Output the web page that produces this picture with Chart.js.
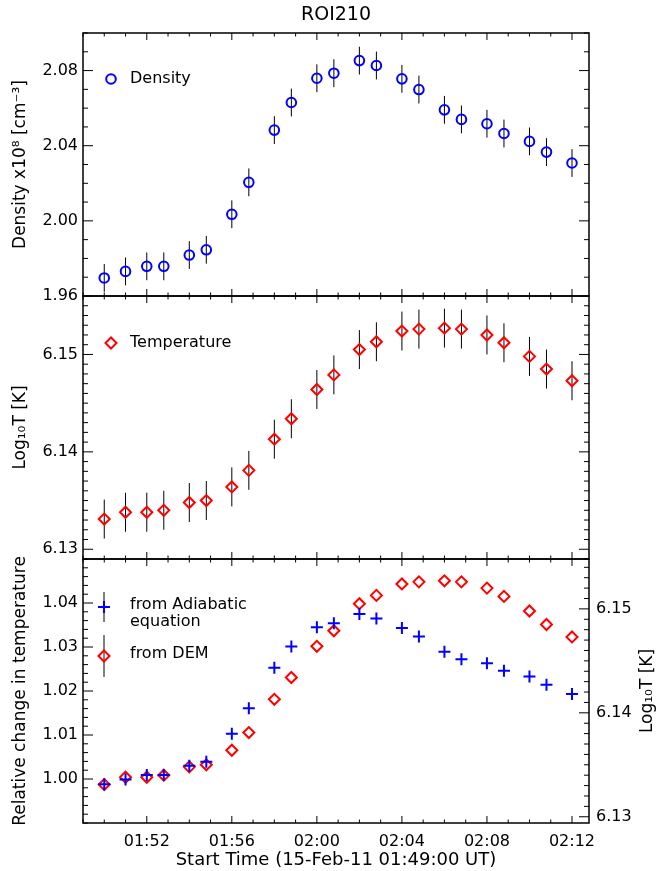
<!DOCTYPE html>
<html>
<head>
<meta charset="utf-8">
<title>ROI210</title>
<script src="https://cdn.jsdelivr.net/npm/chart.js@4.4.1/dist/chart.umd.min.js"></script>
<style>
  html, body { margin: 0; padding: 0; background: #fff; }
  #wrap { position: relative; width: 662px; height: 871px; }
  #wrap canvas { position: absolute; left: 0; top: 0; }
</style>
</head>
<body>
<div id="wrap">
  <canvas id="densityChart" width="662" height="871"></canvas>
  <canvas id="tempChart" width="662" height="871"></canvas>
  <canvas id="relChart" width="662" height="871"></canvas>
</div>
<script>
// Time of each frame, minutes after 01:49:00 UT
const times = [1, 2, 3, 3.8, 5, 5.8, 7, 7.8, 9, 9.8, 11, 11.8, 13, 13.8, 15, 15.8, 17, 17.8, 19, 19.8, 21, 21.8, 23];

// Density x10^8 cm^-3 and its error
const density = [1.9696, 1.9731, 1.9758, 1.9758, 1.9818, 1.9846, 2.0035, 2.0205, 2.0483, 2.0630, 2.0759, 2.0786,
                 2.0853, 2.0827, 2.0756, 2.0699, 2.0591, 2.0540, 2.0517, 2.0465, 2.0423, 2.0366, 2.0308];
const densityErr = [0.0074, 0.0074, 0.0074, 0.0074, 0.0074, 0.0074, 0.0074, 0.0074, 0.0074, 0.0074, 0.0074, 0.0074,
                    0.0074, 0.0074, 0.0074, 0.0074, 0.0074, 0.0074, 0.0074, 0.0074, 0.0074, 0.0074, 0.0074];

// Log10 T from DEM and its error
const logT = [6.1331, 6.1338, 6.1338, 6.1340, 6.1348, 6.1350, 6.1364, 6.1381, 6.1413, 6.1434, 6.1464, 6.1479,
              6.1505, 6.1513, 6.1524, 6.1526, 6.1527, 6.1526, 6.1520, 6.1512, 6.1498, 6.1485, 6.1473];
const logTErr = [0.0020, 0.0020, 0.0020, 0.0020, 0.0020, 0.0020, 0.0020, 0.0020, 0.0020, 0.0020, 0.0020, 0.0020,
                 0.0020, 0.0020, 0.0020, 0.0020, 0.0020, 0.0020, 0.0020, 0.0020, 0.0020, 0.0020, 0.0020];

// Relative change in temperature from the adiabatic equation
const adiabatic = [0.9988, 0.9999, 1.0009, 1.0009, 1.0030, 1.0039, 1.0103, 1.0161, 1.0253, 1.0301, 1.0345, 1.0354,
                   1.0375, 1.0365, 1.0343, 1.0324, 1.0289, 1.0272, 1.0263, 1.0246, 1.0233, 1.0214, 1.0193];

// Axis ticks
const timeTicks = [3, 7, 11, 15, 19, 23];
const timeLabels = ["01:52", "01:56", "02:00", "02:04", "02:08", "02:12"];
const densityTicks = [1.96, 2.00, 2.04, 2.08];
const logTTicks = [6.13, 6.14, 6.15];
const relTicks = [1.00, 1.01, 1.02, 1.03, 1.04];

// Layout (pixels)
const W = 662, H = 871;
const LEFT = 83, RIGHT = 589;
const P1_TOP = 33, P1_BOT = 296, P2_BOT = 559, P3_BOT = 823;

const BLUE = "#0000ff";
const RED = "#ff0000";
const FONT = "'DejaVu Sans', sans-serif";

Chart.defaults.font.family = FONT;
Chart.defaults.font.size = 16;
Chart.defaults.color = "#000";

const pts = ys => times.map((t, i) => ({ x: t, y: ys[i] }));

// inside ticks + box, IDL style
const idlFrame = {
  id: "idlFrame",
  afterDatasetsDraw(chart, args, opts) {
    const { ctx, chartArea: a, scales } = chart;
    ctx.save();
    ctx.strokeStyle = "#000";
    ctx.lineWidth = 1;
    const line = (x0, y0, x1, y1) => { ctx.beginPath(); ctx.moveTo(x0, y0); ctx.lineTo(x1, y1); ctx.stroke(); };

    const xs = scales.x;
    for (let m = Math.ceil(xs.min); m <= xs.max; m++) {
      const px = xs.getPixelForValue(m);
      const len = timeTicks.includes(m) ? 7 : 3.5;
      line(px, a.bottom, px, a.bottom - len);
      line(px, a.top, px, a.top + len);
    }

    const yTicks = (scale, majors, minor, x0, dir) => {
      const k0 = Math.ceil(scale.min / minor - 1e-6), k1 = Math.floor(scale.max / minor + 1e-6);
      for (let k = k0; k <= k1; k++) {
        const v = k * minor;
        const py = scale.getPixelForValue(v);
        const major = majors.some(m => Math.abs(m - v) < minor / 10);
        line(x0, py, x0 + dir * (major ? 10 : 5), py);
      }
    };
    const left = scales.y;
    const right = scales.y2 || scales.y;
    yTicks(left, opts.leftMajor, opts.leftMinor, a.left, 1);
    yTicks(right, opts.rightMajor || opts.leftMajor, opts.rightMinor || opts.leftMinor, a.right, -1);

    ctx.lineWidth = 1.5;
    ctx.strokeRect(a.left, a.top, a.right - a.left, a.bottom - a.top);
    ctx.restore();
  }
};

// vertical error bars drawn from the error arrays
const errorBars = {
  id: "errorBars",
  beforeDatasetsDraw(chart, args, opts) {
    if (!opts.errors) return;
    const { ctx, scales } = chart;
    const ds = chart.data.datasets[0];
    ctx.save();
    ctx.strokeStyle = "#000";
    ctx.lineWidth = 1;
    ds.data.forEach((p, i) => {
      const px = scales.x.getPixelForValue(p.x);
      ctx.beginPath();
      ctx.moveTo(px, scales.y.getPixelForValue(p.y - opts.errors[i]));
      ctx.lineTo(px, scales.y.getPixelForValue(p.y + opts.errors[i]));
      ctx.stroke();
    });
    ctx.restore();
  }
};

// legend boxes and free text (title, right axis title)
const panelText = {
  id: "panelText",
  afterDraw(chart, args, opts) {
    const ctx = chart.ctx;
    ctx.save();
    (opts.legend || []).forEach(it => {
      if (it.bar) {
        ctx.strokeStyle = "#000";
        ctx.lineWidth = 1;
        ctx.beginPath();
        ctx.moveTo(it.x, it.bar[0]);
        ctx.lineTo(it.x, it.bar[1]);
        ctx.stroke();
      }
      ctx.strokeStyle = it.color;
      ctx.fillStyle = "rgba(0,0,0,0)";
      ctx.lineWidth = 2;
      Chart.helpers.drawPoint(ctx, { pointStyle: it.style, radius: it.radius, rotation: 0, borderWidth: 2 }, it.x, it.y);
      ctx.fillStyle = "#000";
      ctx.font = "16px " + FONT;
      ctx.textAlign = "left";
      ctx.textBaseline = "middle";
      it.lines.forEach((t, j) => ctx.fillText(t, 130, it.textY[j]));
    });
    (opts.texts || []).forEach(t => {
      ctx.save();
      ctx.translate(t.x, t.y);
      ctx.rotate(t.rotate || 0);
      ctx.fillStyle = "#000";
      ctx.font = t.size + "px " + FONT;
      ctx.textAlign = "center";
      ctx.textBaseline = "middle";
      ctx.fillText(t.text, 0, 0);
      ctx.restore();
    });
    ctx.restore();
  }
};

function leftAxis(min, max, ticks, title) {
  return {
    type: "linear",
    position: "left",
    min: min,
    max: max,
    grid: { display: false, drawTicks: false },
    border: { display: false },
    afterBuildTicks: s => { s.ticks = ticks.map(v => ({ value: v })); },
    afterFit: s => { s.width = LEFT; },
    ticks: { padding: 5, autoSkip: false, callback: v => Number(v).toFixed(2) },
    title: { display: true, text: title, font: { size: 17 }, padding: { top: 10, bottom: 0 } }
  };
}

function hiddenX() {
  return { type: "linear", min: 0, max: 23.8, display: false };
}

const baseOptions = (padding, scales, plugins) => ({
  responsive: false,
  animation: false,
  devicePixelRatio: 1,
  layout: { padding: padding },
  scales: scales,
  plugins: Object.assign({ legend: { display: false }, tooltip: { enabled: false } }, plugins)
});

// Panel 1: density
new Chart(document.getElementById("densityChart"), {
  type: "scatter",
  data: {
    datasets: [{
      data: pts(density),
      pointStyle: "circle",
      pointRadius: 4.8,
      borderColor: BLUE,
      backgroundColor: "rgba(0,0,0,0)",
      borderWidth: 2
    }]
  },
  options: baseOptions(
    { top: P1_TOP, bottom: H - P1_BOT, left: 0, right: W - RIGHT },
    { x: hiddenX(), y: leftAxis(1.96, 2.10, densityTicks, "Density x10⁸ [cm⁻³]") },
    {
      idlFrame: { leftMajor: densityTicks, leftMinor: 0.01 },
      errorBars: { errors: densityErr },
      panelText: {
        legend: [{ style: "circle", radius: 4.8, color: BLUE, x: 111, y: 79, lines: ["Density"], textY: [79] }],
        texts: [{ text: "ROI210", x: 336, y: 15, size: 19 }]
      }
    }
  ),
  plugins: [idlFrame, errorBars, panelText]
});

// Panel 2: log T with errors
new Chart(document.getElementById("tempChart"), {
  type: "scatter",
  data: {
    datasets: [{
      data: pts(logT),
      pointStyle: "rectRot",
      pointRadius: 5.5,
      borderColor: RED,
      backgroundColor: "rgba(0,0,0,0)",
      borderWidth: 2
    }]
  },
  options: baseOptions(
    { top: P1_BOT, bottom: H - P2_BOT, left: 0, right: W - RIGHT },
    { x: hiddenX(), y: leftAxis(6.129, 6.156, logTTicks, "Log₁₀T [K]") },
    {
      idlFrame: { leftMajor: logTTicks, leftMinor: 0.001 },
      errorBars: { errors: logTErr },
      panelText: {
        legend: [{ style: "rectRot", radius: 5.5, color: RED, x: 111, y: 343, lines: ["Temperature"], textY: [343] }]
      }
    }
  ),
  plugins: [idlFrame, errorBars, panelText]
});

// Panel 3: relative change (left) and log T from DEM (right)
new Chart(document.getElementById("relChart"), {
  type: "scatter",
  data: {
    datasets: [{
      data: pts(adiabatic),
      yAxisID: "y",
      pointStyle: "cross",
      pointRadius: 6,
      borderColor: BLUE,
      backgroundColor: "rgba(0,0,0,0)",
      borderWidth: 2
    }, {
      data: pts(logT),
      yAxisID: "y2",
      pointStyle: "rectRot",
      pointRadius: 5.5,
      borderColor: RED,
      backgroundColor: "rgba(0,0,0,0)",
      borderWidth: 2
    }]
  },
  options: baseOptions(
    { top: P2_BOT, bottom: 0, left: 0, right: 0 },
    {
      x: {
        type: "linear",
        min: 0,
        max: 23.8,
        grid: { display: false, drawTicks: false },
        border: { display: false },
        afterBuildTicks: s => { s.ticks = timeTicks.map(v => ({ value: v })); },
        afterFit: s => { s.height = H - P3_BOT; },
        ticks: { padding: 9, autoSkip: false, maxRotation: 0, callback: (v, i) => timeLabels[i] },
        title: { display: true, text: "Start Time (15-Feb-11 01:49:00 UT)", font: { size: 18 }, padding: { top: 0, bottom: 0 } }
      },
      y: leftAxis(0.99, 1.05, relTicks, "Relative change in temperature"),
      y2: {
        type: "linear",
        position: "right",
        min: 6.1294,
        max: 6.1548,
        grid: { display: false, drawTicks: false },
        border: { display: false },
        afterBuildTicks: s => { s.ticks = logTTicks.map(v => ({ value: v })); },
        afterFit: s => { s.width = W - RIGHT; },
        ticks: { padding: 7, autoSkip: false, callback: v => Number(v).toFixed(2) }
      }
    },
    {
      idlFrame: { leftMajor: relTicks, leftMinor: 0.002, rightMajor: logTTicks, rightMinor: 0.001 },
      panelText: {
        legend: [
          { style: "cross", radius: 6, color: BLUE, x: 104, y: 607, bar: [592, 622], lines: ["from Adiabatic", "equation"], textY: [605, 622] },
          { style: "rectRot", radius: 5.5, color: RED, x: 104, y: 656, bar: [635, 677], lines: ["from DEM"], textY: [654] }
        ],
        texts: [{ text: "Log₁₀T [K]", x: 648, y: (P2_BOT + P3_BOT) / 2, size: 17, rotate: -Math.PI / 2 }]
      }
    }
  ),
  plugins: [idlFrame, panelText]
});
</script>
</body>
</html>
